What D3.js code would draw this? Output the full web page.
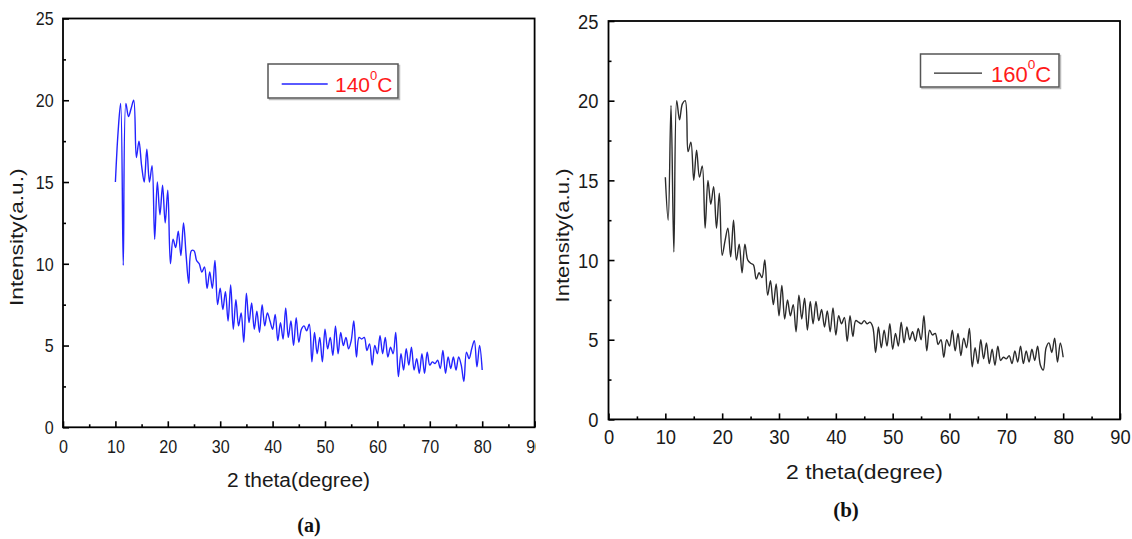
<!DOCTYPE html>
<html>
<head>
<meta charset="utf-8">
<script src="https://cdn.jsdelivr.net/npm/d3@7"></script>
<style>
  html, body { margin: 0; padding: 0; background: #fff; }
  svg { display: block; font-family: "Liberation Sans", Arial, sans-serif; }
</style>
</head>
<body>
<svg id="chart" width="1132" height="539"></svg>
<script>
// XRD patterns, every 0.5 deg from 2theta = 10 to 80
const thetaStart = 10;
const thetaStep = 0.5;

const intensity140 = [
  15, 18, 19.8, 9.9, 19.8, 19, 19.5, 20, 16.5, 17.5,
  16, 15, 17, 15, 16, 11.5, 15, 13, 14.8, 12.5,
  14.5, 10, 11.5, 11, 12, 10.5, 12.5, 10.5, 8.8, 10.8,
  10.8, 10.2, 10, 9.5, 9.8, 8.5, 9.5, 8.5, 10.2, 7.5,
  8.5, 7.2, 8.3, 6.5, 8.7, 6, 7.8, 6.2, 7, 5.2,
  8.2, 6.4, 7.6, 6, 7.1, 5.8, 7.5, 6.2, 7, 6.5,
  6, 6.9, 5.3, 6.4, 5.4, 7.3, 5.5, 6.5, 5, 6.7,
  5.2, 6, 6.2, 5.9, 6.3, 4, 5.8, 4.5, 5.5, 4,
  6, 4.8, 5.5, 4.4, 6.2, 4.5, 5.8, 5, 5.5, 4.8,
  5.3, 6.5, 4.3, 5.5, 5.4, 5.5, 4.7, 5.1, 3.8, 5,
  4.5, 5.6, 4.5, 5.5, 4.3, 4.9, 4.5, 5.8, 3.1, 4.5,
  3.5, 4.8, 3.8, 4.9, 3.5, 4.2, 3.3, 4.5, 3.3, 4.6,
  3.8, 4, 3.9, 4.1, 3.6, 4.7, 3.3, 4.3, 3.6, 4.3,
  3.5, 4.3, 3.8, 2.8, 4.6, 4.2, 4.8, 5.3, 3.7, 5,
  3.5
];

const intensity160 = [
  15.2, 12.5, 19.7, 10.5, 20, 18.8, 19.8, 20, 16.8, 17.4,
  15, 16.9, 15.2, 15.9, 12, 15, 13.5, 14.6, 12, 14.2,
  10.3, 11.2, 12, 10.2, 12.5, 10, 11, 9.2, 11, 10,
  9.8, 9.7, 8.8, 9.2, 8.9, 10, 7.8, 8.7, 7.2, 8.5,
  6.5, 8.4, 6.3, 7.5, 6.5, 7.2, 5.5, 7.8, 6.3, 7.6,
  5.6, 7.4, 6, 7.4, 6.2, 6.9, 5.8, 6.8, 5.5, 7,
  5.3, 6.5, 6, 6.4, 4.9, 6.5, 5.2, 6.2, 6.1, 6,
  6.2, 6, 6.1, 5.8, 4.2, 5.8, 4.5, 5.6, 4.6, 6,
  4.4, 5.4, 4.6, 6.1, 4.8, 5.8, 5, 5.5, 4.9, 5.7,
  5, 6.5, 4.3, 5.6, 5.3, 5.4, 4.7, 5, 3.9, 5,
  4.6, 5.6, 4.3, 5.4, 4, 5.1, 4.5, 5.7, 3.3, 4.5,
  3.5, 5, 3.8, 4.8, 3.5, 4.4, 3.4, 4.6, 3.7, 3.9,
  3.8, 4, 3.5, 4.3, 3.6, 4.6, 3.5, 4.3, 3.6, 4.4,
  3.7, 4.6, 3.4, 3.1, 4.5, 4.8, 4.2, 5.1, 3.6, 4.8,
  3.9
];

const xTicks = [0, 10, 20, 30, 40, 50, 60, 70, 80, 90];
const xMinorTicks = [5, 15, 25, 35, 45, 55, 65, 75, 85];
const yTicks = [0, 5, 10, 15, 20, 25];
const yMinorTicks = [2.5, 7.5, 12.5, 17.5, 22.5];

const xTitle = "2 theta(degree)";
const yTitle = "Intensity(a.u.)";

// layout for the two panels (pixel placement only)
const panels = [
  {
    series: intensity140, temp: "140", caption: "(a)",
    lineColor: "#2323ff",
    left: 63, right: 534.6, top: 18.5, bottom: 427.3, clipLeft: 0, clipRight: 536,
    tickFont: 18, digitW: 8.95, yLabelGap: 9.3, xLabelBase: 25.5,
    xTitle: { x: 298.5, y: 487.4, len: 143 },
    yTitle: { x: 23, y: 237.2, len: 137.6 },
    legend: { x: 268, y: 64, w: 130, h: 34, lx0: 281.7, lx1: 327.7, ly: 84, tx: 335, ty: 91.7, font: 21 },
    cap: { x: 309, y: 532, font: 20 },
  },
  {
    series: intensity160, temp: "160", caption: "(b)",
    lineColor: "#2b2b2b",
    left: 608.5, right: 1120, top: 21, bottom: 419.4, clipLeft: 540, clipRight: 1132,
    tickFont: 20, digitW: 10.2, yLabelGap: 10, xLabelBase: 24.7,
    xTitle: { x: 864.5, y: 479, len: 157 },
    yTitle: { x: 569, y: 235.5, len: 134 },
    legend: { x: 920.5, y: 54, w: 138.5, h: 33, lx0: 934, lx1: 982, ly: 73.2, tx: 991, ty: 81.5, font: 22 },
    cap: { x: 846, y: 517, font: 21 },
  },
];

const svg = d3.select("#chart");

panels.forEach((p, pi) => {
  const clipId = "clip" + pi;
  svg.append("clipPath").attr("id", clipId)
    .append("rect").attr("x", p.clipLeft).attr("y", 0)
    .attr("width", p.clipRight - p.clipLeft).attr("height", 539);

  const g = svg.append("g").attr("clip-path", `url(#${clipId})`);

  const x = d3.scaleLinear().domain([0, 90]).range([p.left, p.right]);
  const y = d3.scaleLinear().domain([0, 25]).range([p.bottom, p.top]);

  // the data trace
  const line = d3.line()
    .x((d, i) => x(thetaStart + i * thetaStep))
    .y(d => y(d))
    .curve(d3.curveCatmullRom.alpha(0.5));
  g.append("path")
    .datum(p.series)
    .attr("d", line)
    .attr("fill", "none")
    .attr("stroke", p.lineColor)
    .attr("stroke-width", 1.4)
    .attr("stroke-linejoin", "round");

  // x axis, ticks pointing inward
  const gx = g.append("g").attr("transform", `translate(0,${p.bottom})`)
    .call(d3.axisBottom(x).tickValues(xTicks).tickSize(-6).tickFormat(d3.format("d")));
  gx.select(".domain").remove();
  gx.selectAll("line").attr("stroke", "#000").attr("stroke-width", 1.6);
  gx.selectAll("text")
    .attr("y", p.xLabelBase).attr("dy", null)
    .attr("fill", "#1a1a1a")
    .attr("font-size", p.tickFont)
    .attr("textLength", d => String(d).length * p.digitW)
    .attr("lengthAdjust", "spacingAndGlyphs");

  const gxm = g.append("g").attr("transform", `translate(0,${p.bottom})`)
    .call(d3.axisBottom(x).tickValues(xMinorTicks).tickSize(-3).tickFormat(""));
  gxm.select(".domain").remove();
  gxm.selectAll("line").attr("stroke", "#000").attr("stroke-width", 1.6);

  // y axis, ticks pointing inward
  const gy = g.append("g").attr("transform", `translate(${p.left},0)`)
    .call(d3.axisLeft(y).tickValues(yTicks).tickSize(-6).tickFormat(d3.format("d")));
  gy.select(".domain").remove();
  gy.selectAll("line").attr("stroke", "#000").attr("stroke-width", 1.6);
  gy.selectAll("text")
    .attr("x", -p.yLabelGap).attr("dy", null)
    .attr("y", p.tickFont * 0.358)
    .attr("fill", "#1a1a1a")
    .attr("font-size", p.tickFont)
    .attr("textLength", d => String(d).length * p.digitW)
    .attr("lengthAdjust", "spacingAndGlyphs");

  const gym = g.append("g").attr("transform", `translate(${p.left},0)`)
    .call(d3.axisLeft(y).tickValues(yMinorTicks).tickSize(-3).tickFormat(""));
  gym.select(".domain").remove();
  gym.selectAll("line").attr("stroke", "#000").attr("stroke-width", 1.6);

  // frame
  g.append("rect")
    .attr("x", p.left).attr("y", p.top)
    .attr("width", p.right - p.left).attr("height", p.bottom - p.top)
    .attr("fill", "none").attr("stroke", "#000").attr("stroke-width", 1.8);

  // axis titles
  g.append("text")
    .attr("x", p.xTitle.x).attr("y", p.xTitle.y)
    .attr("text-anchor", "middle")
    .attr("font-size", 20).attr("fill", "#1a1a1a")
    .attr("textLength", p.xTitle.len).attr("lengthAdjust", "spacingAndGlyphs")
    .text(xTitle);

  g.append("text")
    .attr("transform", `translate(${p.yTitle.x},${p.yTitle.y}) rotate(-90)`)
    .attr("text-anchor", "middle")
    .attr("font-size", 18).attr("fill", "#1a1a1a")
    .attr("textLength", p.yTitle.len).attr("lengthAdjust", "spacingAndGlyphs")
    .text(yTitle);

  // legend
  const L = p.legend;
  g.append("rect")
    .attr("x", L.x + 1.5).attr("y", L.y + 1.5).attr("width", L.w).attr("height", L.h)
    .attr("fill", "none").attr("stroke", "#bbb").attr("stroke-width", 1.5);
  g.append("rect")
    .attr("x", L.x).attr("y", L.y).attr("width", L.w).attr("height", L.h)
    .attr("fill", "#fff").attr("stroke", "#555").attr("stroke-width", 1.5);
  g.append("line")
    .attr("x1", L.lx0).attr("x2", L.lx1).attr("y1", L.ly).attr("y2", L.ly)
    .attr("stroke", p.lineColor).attr("stroke-width", 1.3);
  const lt = g.append("text")
    .attr("x", L.tx).attr("y", L.ty)
    .attr("fill", "#ff1a1a").attr("font-size", L.font);
  lt.append("tspan").text(p.temp);
  lt.append("tspan").attr("font-size", L.font * 0.62).attr("dy", -L.font * 0.55).text("0");
  lt.append("tspan").attr("dy", L.font * 0.55).text("C");

  // caption
  svg.append("text")
    .attr("x", p.cap.x).attr("y", p.cap.y)
    .attr("text-anchor", "middle")
    .attr("font-family", "'Liberation Serif', 'Times New Roman', serif")
    .attr("font-weight", "bold")
    .attr("font-size", p.cap.font).attr("fill", "#111")
    .text(p.caption);
});
</script>
</body>
</html>
